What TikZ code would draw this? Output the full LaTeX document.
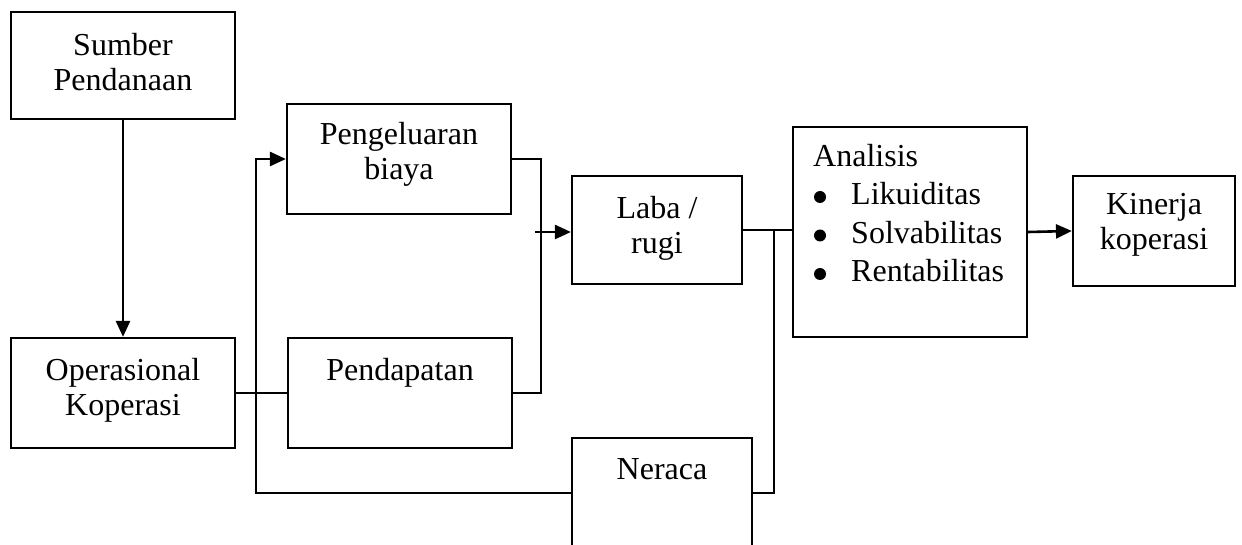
\documentclass[tikz,border=0pt]{standalone}
\usepackage{fontspec}
\setmainfont{Liberation Serif}
\usetikzlibrary{arrows.meta}
\begin{document}
\begin{tikzpicture}[x=1pt,y=-1pt,
  box/.style={draw, line width=2.2pt, inner sep=0pt},
  txt/.style={align=center, inner sep=0pt, anchor=north, font=\fontsize{32}{35}\selectfont},
  conn/.style={line width=2.6pt},
  arr/.style={conn, -{Triangle[length=16pt,width=14pt]}},
  dot/.style={fill=black}]
\clip (0,0) rectangle (1242,545);
% boxes
\node[box, minimum width=224pt, minimum height=107pt] (sumber) at (123,65.5) {};
\node[box, minimum width=224pt, minimum height=110pt] (oper) at (123,393) {};
\node[box, minimum width=224pt, minimum height=110pt] (peng) at (399,159) {};
\node[box, minimum width=224pt, minimum height=110pt] (pend) at (400,393) {};
\node[box, minimum width=170pt, minimum height=108pt] (laba) at (657,230) {};
\node[box, minimum width=180pt, minimum height=110pt] (neraca) at (662,493) {};
\node[box, minimum width=234pt, minimum height=210pt] (ana) at (910,232) {};
\node[box, minimum width=162pt, minimum height=110pt] (kin) at (1154,231) {};
% texts
\node[txt] (tsumber) at (123,33) {Sumber\\Pendanaan};
\node[txt] (toper) at (123,358) {Operasional\\Koperasi};
\node[txt] (tpeng) at (399,122) {Pengeluaran\\biaya};
\node[txt] (tpend) at (400,358) {Pendapatan};
\node[txt] (tlaba) at (657,196) {Laba /\\rugi};
\node[txt] (tneraca) at (662,458) {Neraca};
\node[txt] (tkin) at (1154,193) {Kinerja\\koperasi};
\node[inner sep=0pt, anchor=north west, align=left, font=\fontsize{32}{38.5}\selectfont] (tana) at (813,144)
  {Analisis\\\hspace*{38pt}Likuiditas\\\hspace*{38pt}Solvabilitas\\\hspace*{38pt}Rentabilitas};
\fill[dot] (820,197) circle (6pt);
\fill[dot] (820,235.5) circle (6pt);
\fill[dot] (820,274) circle (6pt);
% connectors
\coordinate (jl) at (256,493);
\coordinate (jr) at (541,159);
\coordinate (ja) at (535,232);
\coordinate (jn) at (774,231);
\draw[arr] (sumber.south) -- (oper.north);
\draw[conn] (oper.east) -- (pend.west);
\draw[arr] (neraca.west) -- (jl) |- (peng.west);
\draw[conn] (peng.east) -- (jr) |- (pend.east);
\draw[arr] (ja) -- (laba.west |- ja);
\draw[conn] (laba.east) -- (laba.east -| ana.west);
\draw[conn] (jn) |- (neraca.east);
\draw[arr] (ana.east) -- (kin.west);
\end{tikzpicture}
\end{document}
